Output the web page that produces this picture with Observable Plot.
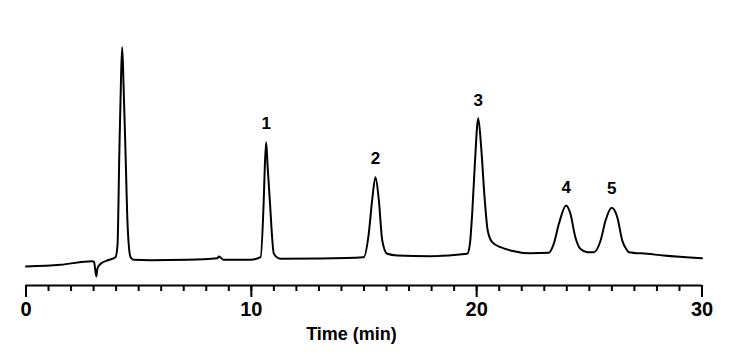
<!DOCTYPE html>
<html>
<head>
<meta charset="utf-8">
<script src="https://cdn.jsdelivr.net/npm/d3@7"></script>
<script src="https://cdn.jsdelivr.net/npm/@observablehq/plot@0.6"></script>
<style>
  html, body { margin: 0; padding: 0; background: #fff; }
  #chart svg { display: block; }
</style>
</head>
<body>
<div id="chart"></div>
<script>
// Retention time (min) and detector signal (arbitrary units above the axis)
const time = [
  0, 1.53, 2.94, 3.02, 3.12, 3.17, 3.31, 3.66, 3.97, 4.06, 4.14, 4.22, 4.27, 4.33, 4.42, 4.51, 4.64, 4.78,
  5.53, 7.15, 8.49, 8.56, 8.77, 9.96,
  10.41, 10.55, 10.60, 10.66, 10.72, 10.82, 11.00, 11.29, 13.07,
  14.99, 15.21, 15.36, 15.51, 15.66, 15.81, 16.03, 16.47, 17.95,
  19.58, 19.70, 19.80, 19.92, 20.07, 20.20, 20.35, 20.49, 20.69, 21.06, 21.50, 22.39, 23.20,
  23.42, 23.65, 23.97, 24.16, 24.38, 24.60, 24.91, 25.20,
  25.50, 25.72, 25.99, 26.24, 26.46, 26.68, 26.75, 27.57, 28.29, 30.0
];
const signal = [
  19, 20.7, 24.3, 23.5, 9, 17, 21.7, 25.5, 28.3, 40, 130, 210, 238.3, 200, 130, 60, 28.3, 25.7,
  25.3, 25.7, 27.3, 29, 25.7, 25.7,
  28.3, 85, 120, 143.3, 120, 85, 31.7, 26.7, 27,
  28.3, 51.7, 85, 108.3, 85, 45, 31.7, 30, 29.3,
  31.7, 41.7, 71.7, 121.7, 167.3, 138.3, 88.3, 55, 43.3, 38.3, 35, 32.3, 32.7,
  41.7, 61.7, 80, 71.7, 48.3, 36.7, 33.3, 33.3,
  45, 65, 77.7, 68.3, 45, 35, 33.3, 31.7, 30, 27.3
];

// Peak labels
const peakNames = ["1", "2", "3", "4", "5"];
const peakTime = [10.66, 15.51, 20.07, 23.97, 25.99];
const peakLabelY = [162, 127, 185, 98, 97];

// Axis ticks
const majorTicks = [0, 10, 20, 30];
const minorTicks = [0, 1, 2, 3, 4, 5, 6, 7, 8, 9, 10, 11, 12, 13, 14, 15, 16, 17, 18, 19, 20,
  21, 22, 23, 24, 25, 26, 27, 28, 29, 30];
const xLabel = "Time (min)";

const trace = time.map((t, i) => ({t, s: signal[i]}));
const peaks = peakNames.map((name, i) => ({name, t: peakTime[i], y: peakLabelY[i]}));

const font = "'Liberation Sans', Arial, Helvetica, sans-serif";

const chart = Plot.plot({
  width: 729,
  height: 357,
  marginLeft: 25.5,
  marginRight: 27.5,
  marginTop: 45,
  marginBottom: 72,
  style: {fontFamily: font, background: "#fff", color: "#000"},
  x: {domain: [0, 30]},
  y: {domain: [0, 240], axis: null},
  marks: [
    Plot.ruleY([0], {stroke: "#000", strokeWidth: 2}),
    Plot.axisX({ticks: minorTicks, tickSize: 6, tickFormat: () => "", strokeWidth: 2, stroke: "#000", label: null}),
    Plot.axisX({ticks: majorTicks, tickSize: 12, tickPadding: 4, strokeWidth: 2, stroke: "#000",
      fontSize: 20, fontWeight: "bold", fill: "#000", label: null}),
    Plot.text([xLabel], {frameAnchor: "bottom", dy: 54, dx: -12.5, fontSize: 18, fontWeight: "bold", fill: "#000"}),
    Plot.line(trace, {x: "t", y: "s", stroke: "#000", strokeWidth: 2, curve: "monotone-x"}),
    Plot.text(peaks, {x: "t", y: "y", text: "name", fontSize: 17, fontWeight: "bold", fill: "#000"})
  ]
});
document.getElementById("chart").appendChild(chart);
</script>
</body>
</html>
